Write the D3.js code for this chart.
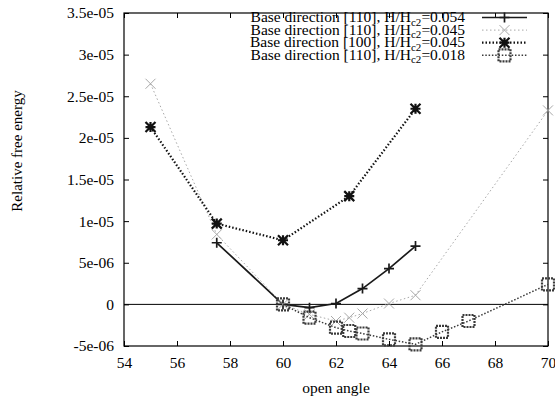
<!DOCTYPE html>
<html>
<head>
<meta charset="utf-8">
<script src="https://cdn.jsdelivr.net/npm/d3@7"></script>
<style>
  body { margin: 0; background: #fff; }
  text { font-family: "Liberation Serif", "DejaVu Serif", serif; fill: #000; }
</style>
</head>
<body>
<svg id="chart" width="555" height="399"></svg>
<script>
// values
var xTicks = [54, 56, 58, 60, 62, 64, 66, 68, 70];
var yTicks = [-5e-6, 0, 5e-6, 1e-5, 1.5e-5, 2e-5, 2.5e-5, 3e-5, 3.5e-5];
var yTickLabels = ["-5e-06", "0", "5e-06", "1e-05", "1.5e-05", "2e-05", "2.5e-05", "3e-05", "3.5e-05"];

var angA = [57.5, 60, 61, 62, 63, 64, 65];
var valA = [7.4e-6, 0.0, -0.4e-6, 0.1e-6, 1.9e-6, 4.3e-6, 7.0e-6];

var angB = [55, 57.5, 60, 61, 62, 62.5, 63, 64, 65, 70];
var valB = [2.65e-5, 8.4e-6, 0.0, -1.2e-6, -2.0e-6, -1.6e-6, -1.1e-6, 0.1e-6, 1.1e-6, 2.33e-5];

var angC = [55, 57.5, 60, 62.5, 65];
var valC = [2.13e-5, 9.7e-6, 7.7e-6, 1.3e-5, 2.35e-5];

var angD = [60, 61, 62, 62.5, 63, 64, 65, 66, 67, 70];
var valD = [0.0, -1.6e-6, -2.8e-6, -3.2e-6, -3.5e-6, -4.2e-6, -4.8e-6, -3.3e-6, -2.0e-6, 2.4e-6];

var labels = ["[110]", "[110]", "[100]", "[110]"];
var fields = ["0.054", "0.045", "0.045", "0.018"];

var svg = d3.select("#chart");
var pLeft = 124, pRight = 548, pTop = 13, pBottom = 346;

var x = d3.scaleLinear().domain([54, 70]).range([pLeft, pRight]);
var y = d3.scaleLinear().domain([-5e-6, 3.5e-5]).range([pBottom, pTop]);

var series = [
  { a: angA, v: valA, color: "#1a1a1a", width: 1.7, dash: null, marker: "plus" },
  { a: angB, v: valB, color: "#a8a8a8", width: 1, dash: "1.5,2.5", marker: "cross" },
  { a: angC, v: valC, color: "#111", width: 2.2, dash: "1.5,2", marker: "star" },
  { a: angD, v: valD, color: "#3a3a3a", width: 1.5, dash: "1.5,1.8", marker: "box" }
];

// zero line
svg.append("line")
  .attr("x1", pLeft).attr("x2", pRight)
  .attr("y1", y(0)).attr("y2", y(0))
  .attr("stroke", "#000").attr("stroke-width", 1);

// axes, ticks mirrored inward like gnuplot
var g = svg.append("g");
g.append("g").attr("transform", "translate(0," + pBottom + ")")
  .call(d3.axisBottom(x).tickValues(xTicks).tickSize(-5).tickPadding(11).tickFormat(d3.format("d")));
g.append("g").attr("transform", "translate(0," + pTop + ")")
  .call(d3.axisTop(x).tickValues(xTicks).tickSize(-5).tickFormat(""));
g.append("g").attr("transform", "translate(" + pLeft + ",0)")
  .call(d3.axisLeft(y).tickValues(yTicks).tickSize(-5).tickPadding(10)
    .tickFormat(function(d, i) { return yTickLabels[i]; }));
g.append("g").attr("transform", "translate(" + pRight + ",0)")
  .call(d3.axisRight(y).tickValues(yTicks).tickSize(-5).tickFormat(""));
g.selectAll(".domain").remove();
g.selectAll("text").style("font-size", "15.5px").style("font-family", "Liberation Serif");
g.selectAll("line").attr("stroke", "#000");

svg.append("rect")
  .attr("x", pLeft).attr("y", pTop)
  .attr("width", pRight - pLeft).attr("height", pBottom - pTop)
  .attr("fill", "none").attr("stroke", "#000").attr("stroke-width", 1.2);

function drawMarker(sel, type, color) {
  var s = 5;
  if (type == "plus") {
    sel.append("path").attr("d", "M" + (-s) + ",0H" + s + "M0," + (-s) + "V" + s)
      .attr("stroke", color).attr("stroke-width", 1.7).attr("fill", "none");
  } else if (type == "cross") {
    sel.append("path").attr("d", "M" + (-s) + "," + (-s) + "L" + s + "," + s + "M" + (-s) + "," + s + "L" + s + "," + (-s))
      .attr("stroke", color).attr("stroke-width", 1).attr("fill", "none");
  } else if (type == "star") {
    sel.append("path").attr("d", "M" + (-s) + ",0H" + s + "M0," + (-s) + "V" + s +
        "M" + (-s) + "," + (-s) + "L" + s + "," + s + "M" + (-s) + "," + s + "L" + s + "," + (-s))
      .attr("stroke", color).attr("stroke-width", 2.2).attr("fill", "none");
  } else {
    sel.append("rect").attr("x", -6).attr("y", -6).attr("width", 12).attr("height", 12)
      .attr("stroke", color).attr("stroke-width", 2.2).attr("stroke-dasharray", "2,1").attr("fill", "none");
  }
}

var line = d3.line().x(function(d) { return x(d[0]); }).y(function(d) { return y(d[1]); });

series.forEach(function(s) {
  var pts = s.a.map(function(a, i) { return [a, s.v[i]]; });
  svg.append("path").datum(pts)
    .attr("d", line)
    .attr("fill", "none")
    .attr("stroke", s.color)
    .attr("stroke-width", s.width)
    .attr("stroke-dasharray", s.dash);
  pts.forEach(function(p) {
    drawMarker(svg.append("g").attr("transform", "translate(" + x(p[0]) + "," + y(p[1]) + ")"), s.marker, s.color);
  });
});

// legend
var legend = svg.append("g");
series.forEach(function(s, i) {
  var ly = 17.5 + i * 12.6;
  var t = legend.append("text")
    .attr("x", 465).attr("y", ly + 4.5)
    .attr("text-anchor", "end")
    .style("font-size", "15.5px");
  t.append("tspan").text("Base direction " + labels[i] + ", H/H");
  t.append("tspan").attr("dy", 3.5).style("font-size", "11px").text("c2");
  t.append("tspan").attr("dy", -3.5).text("=" + fields[i]);
  legend.append("line")
    .attr("x1", 482).attr("x2", 527).attr("y1", ly).attr("y2", ly)
    .attr("stroke", s.color).attr("stroke-width", s.width)
    .attr("stroke-dasharray", s.dash);
  drawMarker(legend.append("g").attr("transform", "translate(504.5," + ly + ")"), s.marker, s.color);
});

// axis titles
svg.append("text")
  .attr("x", x(62)).attr("y", 393)
  .attr("text-anchor", "middle")
  .style("font-size", "15.5px")
  .text("open angle");

svg.append("text")
  .attr("transform", "translate(22,151) rotate(-90)")
  .attr("text-anchor", "middle")
  .style("font-size", "15px")
  .text("Relative free energy");
</script>
</body>
</html>
